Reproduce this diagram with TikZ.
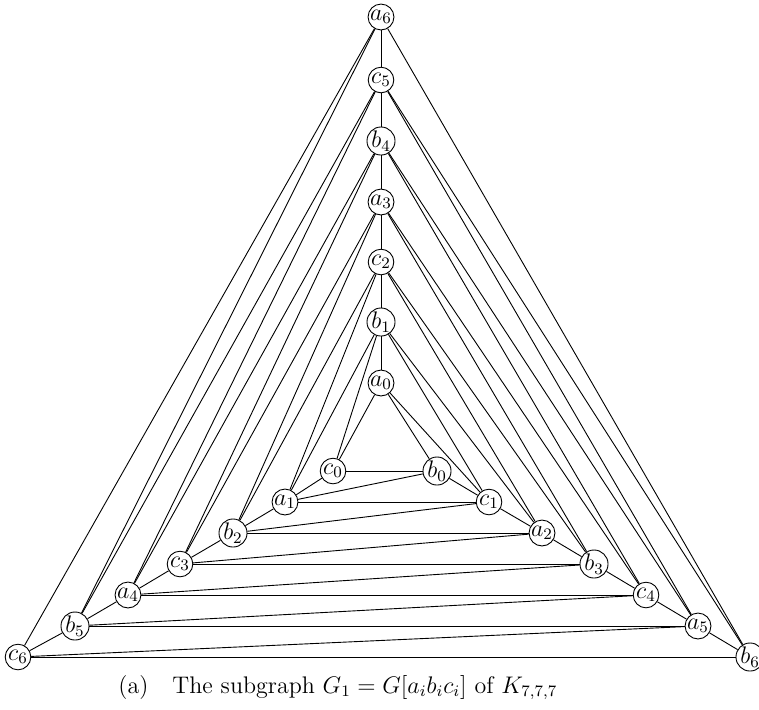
\documentclass[tikz,border=0pt]{standalone}
\begin{document}
\begin{tikzpicture}[x=0.5pt,y=-0.5pt,
  vtx/.style={circle,draw,line width=0.45pt,inner sep=0pt,minimum size=12.8pt,fill=white,font=\fontsize{11.5}{13}\selectfont},
  edge/.style={line width=0.45pt},
  capstyle/.style={anchor=base west,inner sep=0pt,font=\fontsize{12}{14}\selectfont}]
\useasboundingbox (0,0) rectangle (759,709);
\clip (0,0) rectangle (759,709);
% top vertices
\node[vtx] (T0) at (381,383) {$a_0$};
\node[vtx] (T1) at (381,322) {$b_1$};
\node[vtx] (T2) at (381,262) {$c_2$};
\node[vtx] (T3) at (381,202) {$a_3$};
\node[vtx] (T4) at (381,141) {$b_4$};
\node[vtx] (T5) at (381,80) {$c_5$};
\node[vtx] (T6) at (381,17) {$a_6$};
% left vertices
\node[vtx] (L0) at (333,471) {$c_0$};
\node[vtx] (L1) at (285,502) {$a_1$};
\node[vtx] (L2) at (233,533) {$b_2$};
\node[vtx] (L3) at (180,564) {$c_3$};
\node[vtx] (L4) at (128,595) {$a_4$};
\node[vtx] (L5) at (75,626) {$b_5$};
\node[vtx] (L6) at (18,657) {$c_6$};
% right vertices
\node[vtx] (R0) at (437,471) {$b_0$};
\node[vtx] (R1) at (489,502) {$c_1$};
\node[vtx] (R2) at (542,533) {$a_2$};
\node[vtx] (R3) at (594,564) {$b_3$};
\node[vtx] (R4) at (646,595) {$c_4$};
\node[vtx] (R5) at (698,626) {$a_5$};
\node[vtx] (R6) at (750,657) {$b_6$};
% triangles
\foreach \k in {0,...,6}{
  \draw[edge] (T\k) -- (L\k);
  \draw[edge] (T\k) -- (R\k);
  \draw[edge] (L\k) -- (R\k);
}
% bands
\foreach \k [evaluate=\k as \n using int(\k+1)] in {0,...,5}{
  \draw[edge] (T\k) -- (T\n);
  \draw[edge] (L\k) -- (L\n);
  \draw[edge] (R\k) -- (R\n);
  \draw[edge] (L\k) -- (T\n);
  \draw[edge] (T\k) -- (R\n);
  \draw[edge] (L\n) -- (R\k);
}
\node[capstyle] (cap) at (118,693) {(a)\hspace{1em}The subgraph $G_1=G[a_ib_ic_i]$ of $K_{7,7,7}$};
\end{tikzpicture}
\end{document}
